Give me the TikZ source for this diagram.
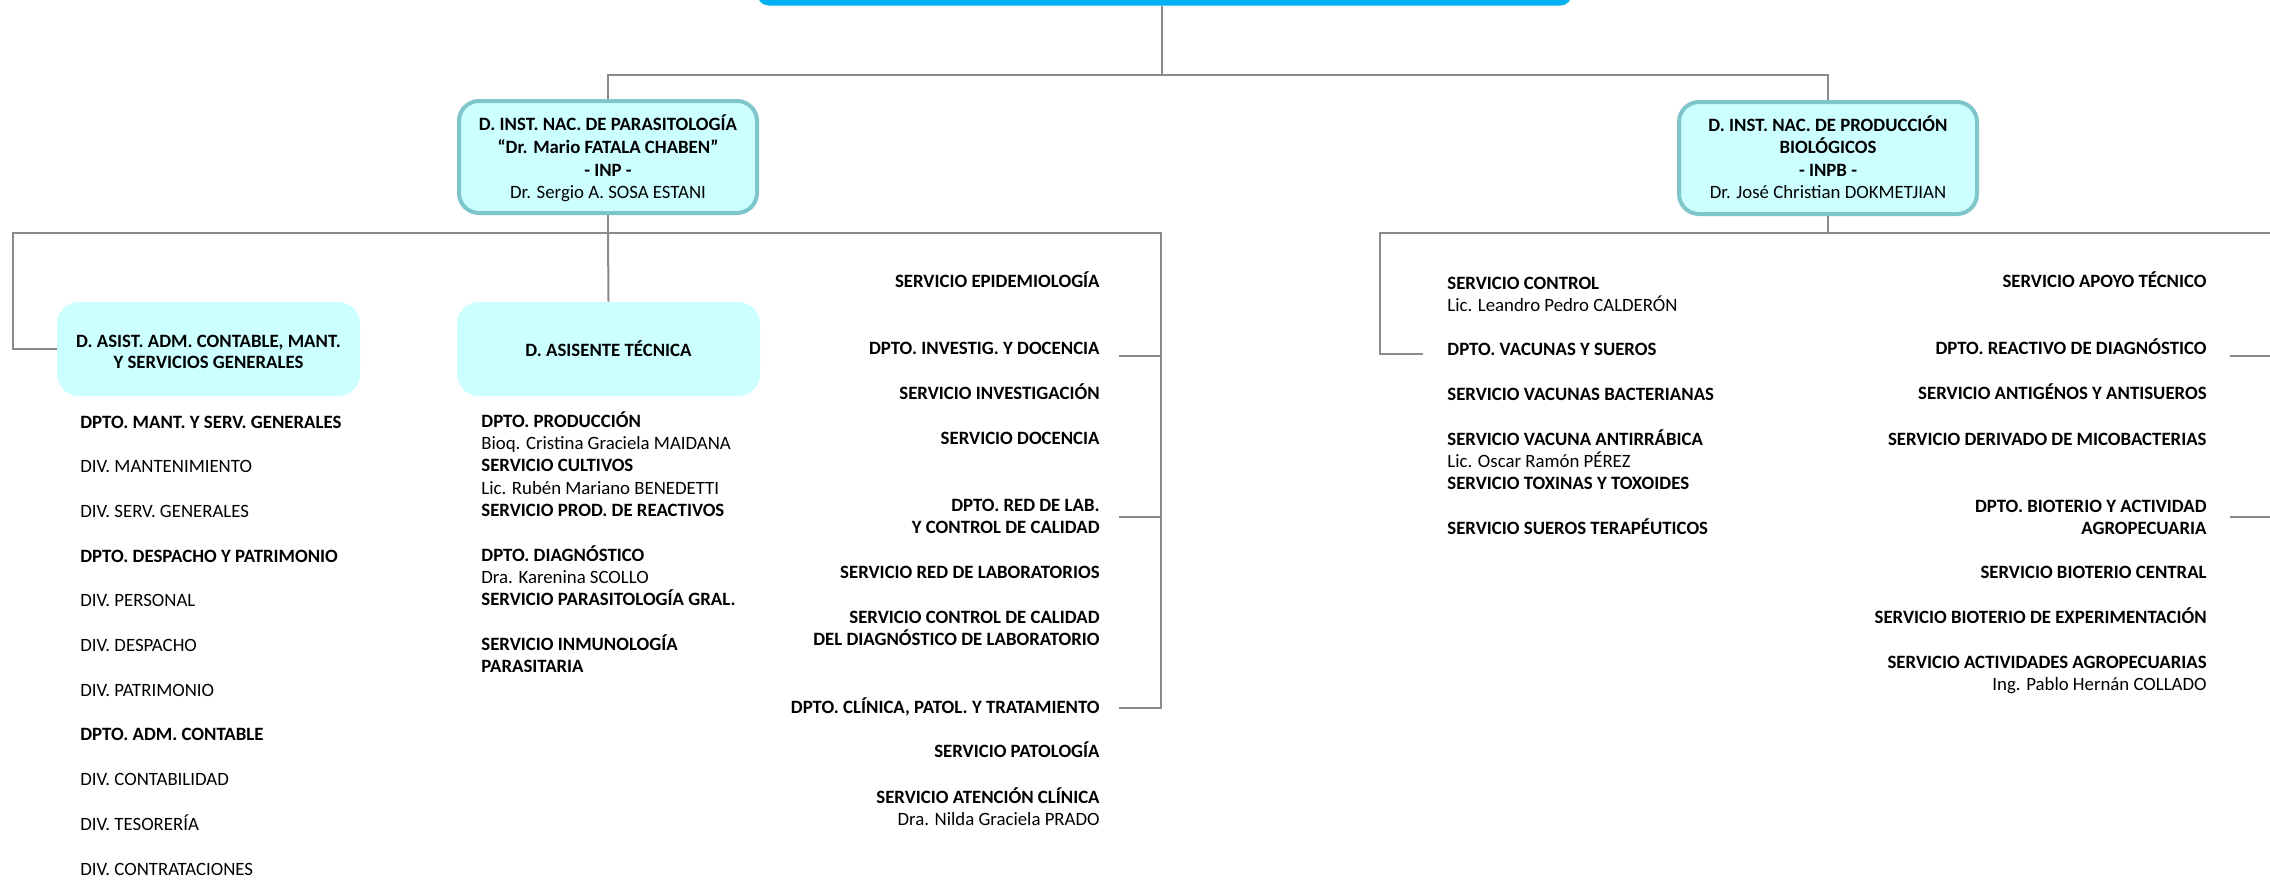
\documentclass[tikz,border=0pt]{standalone}
\usepackage{fontspec}
\setmainfont{Carlito}
\definecolor{topblue}{HTML}{00B0F0}
\definecolor{cyanfill}{HTML}{CCFFFF}
\definecolor{tealline}{HTML}{7EC6CA}
\definecolor{connc}{HTML}{8A8A8A}
\begin{document}
\begin{tikzpicture}[x=0.5pt,y=-0.5pt,
  font=\fontsize{9.4}{11.2}\selectfont,
  conn/.style={draw=connc,line width=1pt},
  dirbox/.style={draw=tealline,line width=2pt,fill=cyanfill,rounded corners=10pt,minimum width=149pt,minimum height=56pt,inner sep=0pt},
  subbox/.style={fill=cyanfill,rounded corners=11pt,minimum width=151.5pt,minimum height=47pt,inner sep=0pt},
  txt/.style={inner sep=0pt,text=black},
  lw/.style={txt,anchor=base west},
  le/.style={txt,anchor=base east},
  lc/.style={txt,anchor=base}]
\useasboundingbox[fill=white] (0,0) rectangle (2270,879);
% top box
\node[fill=topblue,rounded corners=6pt,minimum width=407.5pt,minimum height=40pt,anchor=south] (top) at (1164.5,6) {};
% directorate boxes
\node[dirbox] (inp) at (608,157) {};
\node[dirbox] (inpb) at (1828,158) {};
\node[subbox] (asist) at (208.5,349) {};
\node[subbox] (asisente) at (608.5,349) {};
% texts in boxes
\node[lc] (p1) at (608,130) {\textbf{D. INST. NAC. DE PARASITOLOGÍA}};
\node[lc] (p2) at (608,153) {\textbf{“Dr. Mario FATALA CHABEN”}};
\node[lc] (p3) at (608,176) {\textbf{- INP -}};
\node[lc] (p4) at (608,198) {Dr. Sergio A. SOSA ESTANI};
\node[lc] (b1) at (1828,131) {\textbf{D. INST. NAC. DE PRODUCCIÓN}};
\node[lc] (b2) at (1828,153) {\textbf{BIOLÓGICOS}};
\node[lc] (b3) at (1828,176) {\textbf{- INPB -}};
\node[lc] (b4) at (1828,198) {Dr. José Christian DOKMETJIAN};
\node[lc] (a1) at (208.5,347) {\textbf{D. ASIST. ADM. CONTABLE, MANT.}};
\node[lc] (a2) at (208.5,368) {\textbf{Y SERVICIOS GENERALES}};
\node[lc] (t1) at (608.5,356) {\textbf{D. ASISENTE TÉCNICA}};
% left column
\foreach \y/\t [count=\i] in {
  422/{\textbf{DPTO. MANT. Y SERV. GENERALES}},
  466.7/{DIV. MANTENIMIENTO},
  511.4/{DIV. SERV. GENERALES},
  556.1/{\textbf{DPTO. DESPACHO Y PATRIMONIO}},
  600.8/{DIV. PERSONAL},
  645.5/{DIV. DESPACHO},
  690.2/{DIV. PATRIMONIO},
  734.9/{\textbf{DPTO. ADM. CONTABLE}},
  779.6/{DIV. CONTABILIDAD},
  824.3/{DIV. TESORERÍA},
  869/{DIV. CONTRATACIONES}}
  \node[lw] (L\i) at (80,{\y+6}) {\t};
% middle column
\foreach \y/\t [count=\i] in {
  421/{\textbf{DPTO. PRODUCCIÓN}},
  443.3/{Bioq. Cristina Graciela MAIDANA},
  465.7/{\textbf{SERVICIO CULTIVOS}},
  488/{Lic. Rubén Mariano BENEDETTI},
  510.4/{\textbf{SERVICIO PROD. DE REACTIVOS}},
  555.1/{\textbf{DPTO. DIAGNÓSTICO}},
  577.4/{Dra. Karenina SCOLLO},
  599.8/{\textbf{SERVICIO PARASITOLOGÍA GRAL.}},
  644.5/{\textbf{SERVICIO INMUNOLOGÍA}},
  666.8/{\textbf{PARASITARIA}}}
  \node[lw] (M\i) at (481,{\y+6}) {\t};
% INP right column
\foreach \y/\t [count=\i] in {
  281/{\textbf{SERVICIO EPIDEMIOLOGÍA}},
  348/{\textbf{DPTO. INVESTIG. Y DOCENCIA}},
  393/{\textbf{SERVICIO INVESTIGACIÓN}},
  438/{\textbf{SERVICIO DOCENCIA}},
  505/{\textbf{DPTO. RED DE LAB.}},
  527/{\textbf{Y CONTROL DE CALIDAD}},
  572/{\textbf{SERVICIO RED DE LABORATORIOS}},
  617/{\textbf{SERVICIO CONTROL DE CALIDAD}},
  639/{\textbf{DEL DIAGNÓSTICO DE LABORATORIO}},
  707/{\textbf{DPTO. CLÍNICA, PATOL. Y TRATAMIENTO}},
  751/{\textbf{SERVICIO PATOLOGÍA}},
  797/{\textbf{SERVICIO ATENCIÓN CLÍNICA}},
  819/{Dra. Nilda Graciela PRADO}}
  \node[le] (R\i) at (1100,{\y+6}) {\t};
% INPB left column
\foreach \y/\t [count=\i] in {
  283/{\textbf{SERVICIO CONTROL}},
  305/{Lic. Leandro Pedro CALDERÓN},
  349/{\textbf{DPTO. VACUNAS Y SUEROS}},
  394/{\textbf{SERVICIO VACUNAS BACTERIANAS}},
  439/{\textbf{SERVICIO VACUNA ANTIRRÁBICA}},
  461/{Lic. Oscar Ramón PÉREZ},
  483/{\textbf{SERVICIO TOXINAS Y TOXOIDES}},
  528/{\textbf{SERVICIO SUEROS TERAPÉUTICOS}}}
  \node[lw] (V\i) at (1447,{\y+6}) {\t};
% INPB right column
\foreach \y/\t [count=\i] in {
  281/{\textbf{SERVICIO APOYO TÉCNICO}},
  348/{\textbf{DPTO. REACTIVO DE DIAGNÓSTICO}},
  393/{\textbf{SERVICIO ANTIGÉNOS Y ANTISUEROS}},
  439/{\textbf{SERVICIO DERIVADO DE MICOBACTERIAS}},
  506/{\textbf{DPTO. BIOTERIO Y ACTIVIDAD}},
  528/{\textbf{AGROPECUARIA}},
  572/{\textbf{SERVICIO BIOTERIO CENTRAL}},
  617/{\textbf{SERVICIO BIOTERIO DE EXPERIMENTACIÓN}},
  662/{\textbf{SERVICIO ACTIVIDADES AGROPECUARIAS}},
  684/{Ing. Pablo Hernán COLLADO}}
  \node[le] (W\i) at (2207,{\y+6}) {\t};
% connectors
\coordinate (tj) at (1162,75);
\draw[conn] (top.south -| tj) -- (tj);
\draw[conn] (inp.north) -- (inp.north |- tj) -- (inpb.north |- tj) -- (inpb.north);
\coordinate (pl) at (13,233);
\coordinate (pr) at (1161,233);
\coordinate (s1) at (1119,356);
\coordinate (s2) at (1119,517);
\coordinate (s3) at (1119,708);
\draw[conn] (inp.south) -- (inp.south |- pl);
\draw[conn] (inp.south |- pl) -- (asisente.north);
\draw[conn] (asist.west) -- (asist.west -| pl) -- (pl) -- (pr) -- (pr |- s3) -- (s3);
\draw[conn] (s1) -- (s1 -| pr);
\draw[conn] (s2) -- (s2 -| pr);
\coordinate (bl) at (1380,233);
\coordinate (br) at (2272,233);
\coordinate (c1) at (1423,354);
\coordinate (u1) at (2230,356);
\coordinate (u2) at (2230,517);
\draw[conn] (inpb.south) -- (inpb.south |- bl);
\draw[conn] (c1) -| (bl) -- (br);
\draw[conn] (u1) -- (u1 -| br);
\draw[conn] (u2) -- (u2 -| br);
\end{tikzpicture}
\end{document}
